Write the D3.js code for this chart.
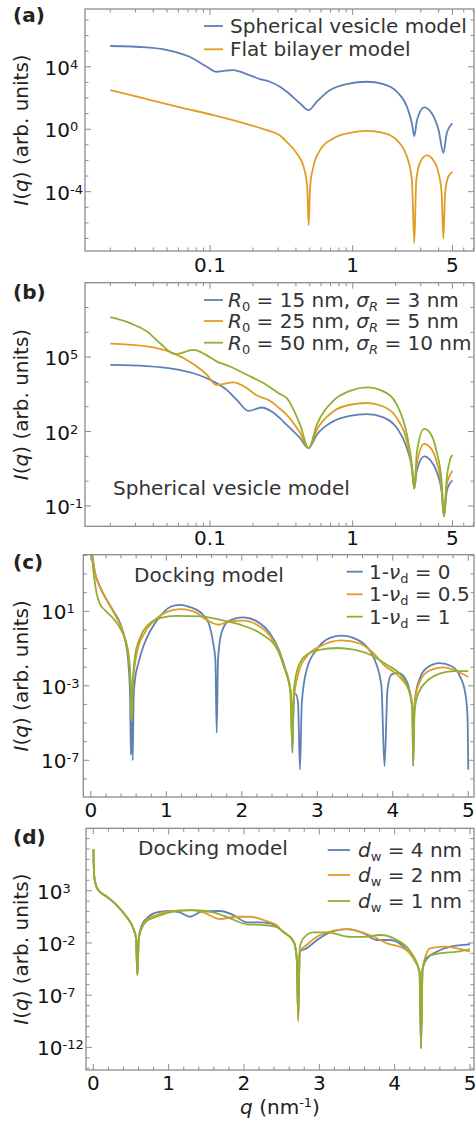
<!DOCTYPE html>
<html>
<head>
<meta charset="utf-8">
<script src="https://cdn.jsdelivr.net/npm/d3@7"></script>
<style>
html, body { margin: 0; padding: 0; background: #fff; }
svg { display: block; font-family: "DejaVu Sans", sans-serif; }
</style>
</head>
<body>
<svg id="chart" width="476" height="1126"></svg>
<script>
// Values: [q (nm^-1), log10 I(q)]

// (a)
const aSphere = [[0.02,5.33],[0.036,5.24],[0.05,5.07],[0.072,4.64],[0.095,4.0],[0.111,3.68],[0.128,3.75],[0.146,3.79],[0.181,3.53],[0.224,3.21],[0.263,3.04],[0.309,2.72],[0.345,2.40],[0.428,1.65],[0.491,1.22],[0.56,1.76],[0.694,2.51],[0.907,2.89],[1.26,3.04],[1.64,2.89],[2.04,2.40],[2.40,1.44],[2.6,0.37],[2.70,-0.44],[2.82,0.58],[3.17,1.40],[3.59,1.01],[4.0,-0.06],[4.32,-1.51],[4.56,-0.27],[5.0,0.37]];
const aFlat = [[0.02,2.51],[0.036,1.93],[0.0616,1.40],[0.1055,0.90],[0.181,0.33],[0.249,-0.06],[0.309,-0.40],[0.345,-0.81],[0.406,-1.55],[0.453,-2.41],[0.48,-3.69],[0.491,-6.15],[0.503,-3.69],[0.53,-2.41],[0.59,-1.34],[0.73,-0.59],[0.957,-0.23],[1.26,-0.10],[1.64,-0.23],[2.04,-0.70],[2.40,-1.77],[2.6,-3.26],[2.70,-7.28],[2.79,-3.26],[2.98,-2.09],[3.31,-1.68],[3.67,-1.98],[4.0,-2.83],[4.2,-4.12],[4.32,-7.0],[4.44,-4.12],[4.67,-3.05],[5.0,-2.73]];

// (b)
const bR15 = [[0.02,4.69],[0.036,4.64],[0.0553,4.53],[0.0764,4.35],[0.1,4.09],[0.131,3.68],[0.154,3.28],[0.186,2.83],[0.23,2.97],[0.27,2.81],[0.309,2.54],[0.345,2.27],[0.428,1.73],[0.491,1.33],[0.56,1.87],[0.73,2.41],[0.957,2.63],[1.26,2.70],[1.64,2.57],[2.04,2.14],[2.4,1.33],[2.6,0.52],[2.70,-0.30],[2.82,0.46],[3.17,1.0],[3.49,0.86],[3.87,0.39],[4.2,-0.42],[4.36,-1.42],[4.56,-0.42],[4.81,-0.08],[5.0,0.03]];
const bR25 = [[0.02,5.54],[0.036,5.43],[0.0553,5.16],[0.0764,4.72],[0.095,4.29],[0.111,3.88],[0.146,3.98],[0.181,3.75],[0.212,3.46],[0.263,3.24],[0.309,2.92],[0.345,2.67],[0.428,1.94],[0.491,1.33],[0.56,2.07],[0.73,2.81],[0.957,3.08],[1.26,3.15],[1.64,3.01],[2.04,2.54],[2.4,1.60],[2.6,0.52],[2.70,-0.30],[2.82,0.73],[3.17,1.50],[3.49,1.36],[3.87,0.79],[4.2,-0.28],[4.36,-1.42],[4.56,-0.15],[4.81,0.25],[5.0,0.42]];
const bR50 = [[0.02,6.61],[0.0275,6.37],[0.036,6.04],[0.0446,5.56],[0.0569,5.12],[0.0764,5.29],[0.095,5.07],[0.111,4.83],[0.138,4.62],[0.181,4.29],[0.249,3.88],[0.309,3.51],[0.345,3.35],[0.428,2.27],[0.491,1.33],[0.56,2.27],[0.73,3.24],[0.957,3.64],[1.26,3.78],[1.64,3.62],[2.04,3.08],[2.4,1.87],[2.6,0.66],[2.70,-0.30],[2.82,1.20],[3.17,2.11],[3.49,1.94],[3.87,1.20],[4.2,-0.01],[4.36,-1.42],[4.56,0.12],[4.81,0.86],[5.0,1.06]];

// (c)
const cNu0 = [[0.01,4.3],[0.056,3.06],[0.12,2.34],[0.21,1.62],[0.30,1.0],[0.387,0.37],[0.453,-0.52],[0.497,-1.78],[0.52,-3.6],[0.53,-6.7],[0.542,-4.5],[0.555,-7.0],[0.567,-3.6],[0.585,-2.67],[0.63,-1.78],[0.696,-0.88],[0.784,-0.07],[0.917,0.73],[1.05,1.23],[1.18,1.35],[1.31,1.23],[1.45,0.95],[1.56,0.37],[1.62,-0.70],[1.65,-1.60],[1.667,-5.53],[1.685,-1.60],[1.73,-0.17],[1.82,0.46],[2.02,0.68],[2.2,0.46],[2.37,-0.17],[2.5,-1.15],[2.59,-2.31],[2.65,-3.39],[2.67,-6.6],[2.69,-3.5],[2.715,-3.45],[2.745,-3.9],[2.77,-7.5],[2.795,-3.9],[2.86,-2.13],[2.99,-1.06],[3.17,-0.43],[3.32,-0.31],[3.48,-0.43],[3.65,-0.88],[3.76,-1.60],[3.85,-3.03],[3.89,-7.32],[3.93,-3.2],[3.98,-2.40],[4.07,-2.31],[4.16,-2.58],[4.23,-3.39],[4.26,-4.28],[4.27,-7.3],[4.285,-4.28],[4.30,-3.56],[4.36,-2.58],[4.45,-2.04],[4.62,-1.78],[4.78,-1.95],[4.89,-2.49],[4.96,-3.39],[4.99,-4.64],[5.0,-7.5]];
const cNu05 = [[0.01,4.3],[0.056,3.05],[0.12,2.3],[0.21,1.6],[0.30,0.95],[0.43,-0.17],[0.497,-1.24],[0.528,-3.03],[0.54,-4.9],[0.555,-3.0],[0.61,-1.24],[0.696,-0.26],[0.83,0.46],[1.0,0.96],[1.18,1.12],[1.36,1.0],[1.53,0.55],[1.69,0.28],[1.84,0.46],[2.02,0.50],[2.2,0.28],[2.37,-0.31],[2.5,-1.24],[2.55,-1.87],[2.62,-2.67],[2.66,-3.92],[2.67,-6.34],[2.685,-3.9],[2.75,-2.31],[2.86,-1.42],[3.04,-0.88],[3.32,-0.56],[3.57,-0.74],[3.74,-1.24],[3.9,-1.95],[4.03,-2.31],[4.14,-2.76],[4.23,-3.39],[4.26,-4.28],[4.27,-6.5],[4.285,-4.28],[4.30,-3.6],[4.36,-2.76],[4.47,-2.22],[4.67,-2.01],[4.85,-2.22],[5.0,-2.53]];
const cNu1 = [[0.01,4.1],[0.033,3.2],[0.08,1.9],[0.12,1.4],[0.19,1.05],[0.30,0.6],[0.387,0.1],[0.453,-0.52],[0.51,-1.78],[0.532,-3.39],[0.54,-4.64],[0.553,-3.03],[0.585,-1.42],[0.65,-0.43],[0.76,0.28],[0.917,0.64],[1.14,0.76],[1.45,0.73],[1.71,0.55],[1.98,0.28],[2.24,-0.17],[2.46,-0.97],[2.57,-2.13],[2.64,-3.21],[2.67,-6.3],[2.69,-3.21],[2.75,-1.95],[2.86,-1.33],[3.04,-1.06],[3.26,-0.97],[3.48,-1.06],[3.70,-1.33],[3.92,-1.87],[4.10,-2.40],[4.21,-3.21],[4.26,-4.28],[4.27,-7.27],[4.29,-4.28],[4.34,-3.39],[4.45,-2.76],[4.62,-2.35],[4.80,-2.21],[5.0,-2.21]];

// (d)
const dW4 = [[0.001,7.0],[0.01,4.6],[0.023,3.86],[0.066,3.07],[0.18,2.43],[0.31,1.63],[0.44,0.51],[0.53,-0.60],[0.567,-1.56],[0.585,-5.07],[0.603,-1.56],[0.643,-0.29],[0.71,0.36],[0.84,0.93],[1.0,1.08],[1.15,0.93],[1.28,0.51],[1.44,0.99],[1.68,1.06],[1.86,0.67],[2.04,-0.03],[2.21,-0.03],[2.35,-0.12],[2.52,-0.93],[2.66,-1.89],[2.70,-3.48],[2.72,-9.3],[2.74,-2.84],[2.83,-2.52],[2.97,-1.72],[3.14,-0.98],[3.37,-0.67],[3.59,-1.08],[3.76,-1.72],[3.94,-1.72],[4.12,-2.36],[4.25,-3.48],[4.33,-4.76],[4.35,-12.1],[4.37,-4.5],[4.43,-3.48],[4.56,-2.84],[4.74,-2.36],[5.0,-2.14]];
const dW2 = [[0.001,7.0],[0.01,4.6],[0.023,3.86],[0.066,3.07],[0.18,2.43],[0.31,1.6],[0.44,0.5],[0.53,-0.6],[0.567,-1.56],[0.585,-5.07],[0.603,-1.56],[0.643,-0.45],[0.71,0.2],[0.84,0.67],[1.02,1.05],[1.28,1.15],[1.46,0.93],[1.68,0.29],[1.90,0.51],[2.08,0.51],[2.26,0.19],[2.43,-0.29],[2.52,-0.93],[2.66,-1.89],[2.70,-3.48],[2.72,-9.55],[2.74,-2.84],[2.83,-2.2],[3.01,-1.24],[3.37,-0.67],[3.72,-1.41],[3.90,-2.04],[4.12,-2.52],[4.25,-3.48],[4.33,-4.76],[4.35,-11.0],[4.37,-4.5],[4.47,-2.52],[4.65,-2.36],[5.0,-2.84]];
const dW1 = [[0.001,7.0],[0.01,4.6],[0.023,3.86],[0.066,3.07],[0.18,2.43],[0.31,1.63],[0.44,0.51],[0.53,-0.60],[0.567,-1.56],[0.585,-5.07],[0.603,-1.56],[0.643,-0.6],[0.71,0.1],[0.84,0.51],[1.06,0.99],[1.33,1.15],[1.59,0.93],[1.82,0.36],[2.04,-0.22],[2.26,-0.29],[2.43,-0.45],[2.52,-0.93],[2.66,-1.89],[2.70,-3.48],[2.72,-9.0],[2.74,-2.5],[2.79,-1.53],[2.92,-0.98],[3.1,-0.98],[3.41,-1.41],[3.59,-1.41],[3.81,-1.24],[4.03,-1.72],[4.21,-2.84],[4.33,-4.76],[4.35,-12.1],[4.37,-4.5],[4.43,-3.32],[4.6,-3.0],[4.83,-2.84],[5.0,-2.59]];

// tick labels
const logXTicks = [0.1, 1, 5];
const linXTicks = [0, 1, 2, 3, 4, 5];
const aYTicks = [4, 0, -4];
const bYTicks = [5, 2, -1];
const cYTicks = [1, -3, -7];
const dYTicks = [3, -2, -7, -12];

// legend texts
const aNames = ["Spherical vesicle model", "Flat bilayer model"];
const bR0 = ["15", "25", "50"], bSigma = ["3", "5", "10"];
const cNu = ["0", "0.5", "1"];
const dW = ["4", "2", "1"];

const blue = "#5e81b5", orange = "#e19c24", green = "#8fb032";
const frameColor = "#8c8c8c";

const svg = d3.select("#chart");

const panels = [
    {
        id: "a", label: "(a)", labelY: 22, logX: true,
        left: 85, right: 474, top: 9, bottom: 251,
        xDomain: [0.0133, 7.08], yDomain: [-7.8, 7.7],
        xTicks: logXTicks, yTicks: aYTicks, tickLabelY: 272, yLabelX: 44.5,
        series: [{data: aSphere, color: blue}, {data: aFlat, color: orange}],
        legend: {x1: 204, x2: 223, tx: 230, ys: [26, 49.3]}
    },
    {
        id: "b", label: "(b)", labelY: 299, logX: true,
        left: 85, right: 474, top: 282.7, bottom: 526.3,
        xDomain: [0.0133, 7.08], yDomain: [-1.82, 8.0],
        xTicks: logXTicks, yTicks: bYTicks, tickLabelY: 545, yLabelX: 44.5,
        series: [{data: bR15, color: blue}, {data: bR25, color: orange}, {data: bR50, color: green}],
        legend: {x1: 204, x2: 223, tx: 228, ys: [300, 321, 342.7]},
        note: {text: "Spherical vesicle model", x: 113, y: 495}
    },
    {
        id: "c", label: "(c)", labelY: 569, logX: false,
        left: 83.3, right: 474, top: 554.7, bottom: 797,
        xDomain: [-0.1, 5.076], yDomain: [-8.97, 4.04],
        xTicks: linXTicks, yTicks: cYTicks, tickLabelY: 817, yLabelX: 41,
        series: [{data: cNu0, color: blue}, {data: cNu05, color: orange}, {data: cNu1, color: green}],
        legend: {x1: 346.7, x2: 362.7, tx: 369, ys: [571.7, 594.3, 616.7]},
        note: {text: "Docking model", x: 134, y: 582}
    },
    {
        id: "d", label: "(d)", labelY: 844, logX: false,
        left: 86, right: 474, top: 828.3, bottom: 1070,
        xDomain: [-0.097, 5.053], yDomain: [-14.17, 8.98],
        xTicks: linXTicks, yTicks: dYTicks, tickLabelY: 1090, yLabelX: 37,
        series: [{data: dW4, color: blue}, {data: dW2, color: orange}, {data: dW1, color: green}],
        legend: {x1: 327.7, x2: 350, tx: 358, ys: [850, 875, 901]},
        note: {text: "Docking model", x: 138, y: 855}
    }
];

// legend label with italics and subscripts
function legendLabel(id, i, t) {
    if (id === "a") {
        t.text(aNames[i]);
    } else if (id === "b") {
        t.append("tspan").attr("font-style", "italic").text("R");
        t.append("tspan").attr("font-size", 13).attr("dy", 4).text("0");
        t.append("tspan").attr("dy", -4).text(` = ${bR0[i]} nm, `);
        t.append("tspan").attr("font-style", "italic").text("σ");
        t.append("tspan").attr("font-style", "italic").attr("font-size", 13).attr("dy", 4).text("R");
        t.append("tspan").attr("dy", -4).text(` = ${bSigma[i]} nm`);
    } else if (id === "c") {
        t.append("tspan").text("1-");
        t.append("tspan").attr("font-style", "italic").text("ν");
        t.append("tspan").attr("font-size", 13).attr("dy", 4).text("d");
        t.append("tspan").attr("dy", -4).text(` = ${cNu[i]}`);
    } else {
        t.append("tspan").attr("font-style", "italic").text("d");
        t.append("tspan").attr("font-size", 13).attr("dy", 4).text("w");
        t.append("tspan").attr("dy", -4).text(` = ${dW[i]} nm`);
    }
}

function drawPanel(p) {
    const x = (p.logX ? d3.scaleLog() : d3.scaleLinear())
        .domain(p.xDomain)
        .range([p.left, p.right]);
    // y is log10 I, so a linear scale on the exponent
    const y = d3.scaleLinear()
        .domain(p.yDomain)
        .range([p.bottom, p.top]);

    const g = svg.append("g").attr("class", "panel-" + p.id);

    g.append("clipPath").attr("id", "clip-" + p.id)
        .append("rect")
        .attr("x", p.left).attr("y", p.top)
        .attr("width", p.right - p.left).attr("height", p.bottom - p.top);

    // curves
    const line = d3.line()
        .x(d => x(d[0]))
        .y(d => y(d[1]))
        .curve(d3.curveMonotoneX);

    p.series.forEach(s => {
        g.append("path")
            .datum(s.data)
            .attr("clip-path", `url(#clip-${p.id})`)
            .attr("fill", "none")
            .attr("stroke", s.color)
            .attr("stroke-width", 1.8)
            .attr("stroke-linejoin", "round")
            .attr("d", line);
    });

    // ticks on all four sides
    const ticks = g.append("g").attr("stroke", frameColor).attr("stroke-width", 1);
    let minorX = [];
    if (p.logX) {
        [0.01, 0.1, 1].forEach(dec => {
            for (let k = 1; k <= 9; k++) {
                const v = dec * k;
                if (v >= p.xDomain[0] && v <= p.xDomain[1] && !p.xTicks.includes(+v.toPrecision(3))) minorX.push(v);
            }
        });
    } else {
        for (let v = 0; v <= 5.001; v += 0.2) {
            if (Math.abs(v - Math.round(v)) > 0.01) minorX.push(v);
        }
    }
    const xTickMarks = p.xTicks.map(v => ({v, len: 6})).concat(minorX.map(v => ({v, len: 3.5})));
    xTickMarks.forEach(t => {
        const px = x(t.v);
        ticks.append("line").attr("x1", px).attr("x2", px).attr("y1", p.bottom).attr("y2", p.bottom - t.len);
        ticks.append("line").attr("x1", px).attr("x2", px).attr("y1", p.top).attr("y2", p.top + t.len);
    });
    const yMarks = [];
    for (let e = Math.ceil(p.yDomain[0]); e <= Math.floor(p.yDomain[1]); e++) {
        yMarks.push({v: e, len: p.yTicks.includes(e) ? 6 : 3.5});
    }
    yMarks.forEach(t => {
        const py = y(t.v);
        ticks.append("line").attr("x1", p.left).attr("x2", p.left + t.len).attr("y1", py).attr("y2", py);
        ticks.append("line").attr("x1", p.right).attr("x2", p.right - t.len).attr("y1", py).attr("y2", py);
    });

    // frame
    g.append("rect")
        .attr("x", p.left).attr("y", p.top)
        .attr("width", p.right - p.left).attr("height", p.bottom - p.top)
        .attr("fill", "none").attr("stroke", frameColor).attr("stroke-width", 1.3);

    // x tick labels
    p.xTicks.forEach(v => {
        g.append("text")
            .attr("x", x(v)).attr("y", p.tickLabelY)
            .attr("text-anchor", "middle")
            .attr("font-size", 20).attr("fill", "#111")
            .text(v);
    });

    // y tick labels (10^e)
    p.yTicks.forEach(e => {
        const t = g.append("text")
            .attr("x", p.yLabelX).attr("y", y(e) + 8)
            .attr("font-size", 20).attr("fill", "#111");
        t.append("tspan").text("10");
        t.append("tspan").attr("dy", -6).attr("font-size", 13).text(e);
    });

    // y axis title
    const cy = (p.top + p.bottom) / 2;
    const yt = g.append("text")
        .attr("transform", `translate(28,${cy}) rotate(-90)`)
        .attr("text-anchor", "middle")
        .attr("font-size", 20).attr("fill", "#222");
    yt.append("tspan").attr("font-style", "italic").text("I");
    yt.append("tspan").text("(");
    yt.append("tspan").attr("font-style", "italic").text("q");
    yt.append("tspan").text(") (arb. units)");

    // panel label
    g.append("text")
        .attr("x", 13).attr("y", p.labelY)
        .attr("font-size", 20).attr("font-weight", "bold").attr("fill", "#222")
        .text(p.label);

    if (p.note) {
        g.append("text")
            .attr("x", p.note.x).attr("y", p.note.y)
            .attr("font-size", 20).attr("fill", "#333")
            .text(p.note.text);
    }

    // legend
    const lg = g.append("g").attr("class", "legend");
    p.series.forEach((s, i) => {
        const ly = p.legend.ys[i];
        lg.append("line")
            .attr("x1", p.legend.x1).attr("x2", p.legend.x2)
            .attr("y1", ly).attr("y2", ly)
            .attr("stroke", s.color).attr("stroke-width", 1.8);
        const t = lg.append("text")
            .attr("x", p.legend.tx).attr("y", ly + 7)
            .attr("font-size", 20).attr("fill", "#333");
        legendLabel(p.id, i, t);
    });
}

panels.forEach(drawPanel);

// x axis title (bottom)
const xt = svg.append("text")
    .attr("x", 280).attr("y", 1114)
    .attr("text-anchor", "middle")
    .attr("font-size", 20).attr("fill", "#222");
xt.append("tspan").attr("font-style", "italic").text("q");
xt.append("tspan").text(" (nm");
xt.append("tspan").attr("font-size", 13).attr("dy", -7).text("-1");
xt.append("tspan").attr("dy", 7).text(")");
</script>
</body>
</html>
